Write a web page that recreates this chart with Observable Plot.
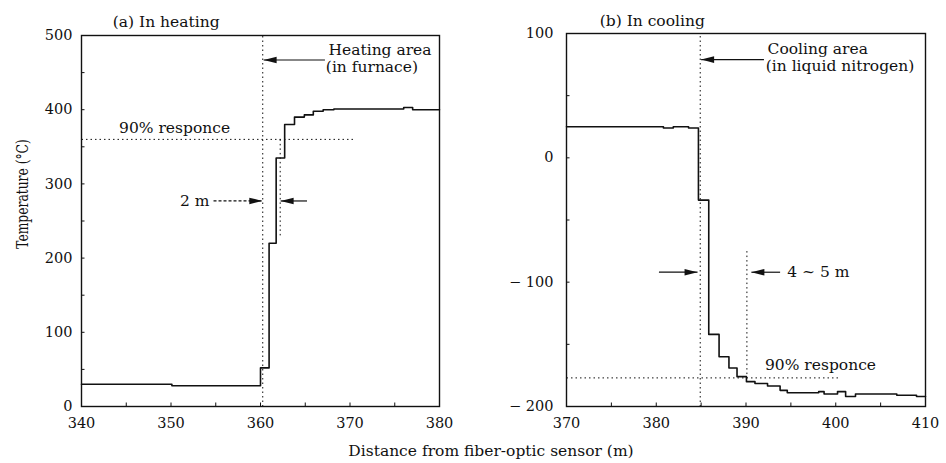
<!DOCTYPE html>
<html>
<head>
<meta charset="utf-8">
<script src="https://cdn.jsdelivr.net/npm/d3@7"></script>
<script src="https://cdn.jsdelivr.net/npm/@observablehq/plot@0.6"></script>
<style>
  body { margin: 0; background: #fff; }
  #wrap { position: relative; width: 946px; height: 463px; background: #fff; font-family: "DejaVu Serif", serif; color: #111; }
  #left, #right { position: absolute; top: 0; }
  #left { left: 0; }
  #right { left: 473px; }
  #xlabel { position: absolute; top: 442px; left: 0; width: 982px; text-align: center; font-size: 15.5px; }
  #ylabel { position: absolute; left: 22px; top: 194px; transform: translate(-50%, -50%) rotate(-90deg) scale(0.82, 1.12); white-space: nowrap; font-size: 15px; }
</style>
</head>
<body>
<div id="wrap">
  <div id="left"></div>
  <div id="right"></div>
  <div id="xlabel">Distance from fiber-optic sensor (m)</div>
  <div id="ylabel">Temperature (°C)</div>
</div>
<script>
// ---- Data: (a) In heating ----
const heatX = [340, 350.1, 360.0, 360.96, 361.75, 362.7, 363.8, 364.9, 365.9, 367.0, 368.2, 376.0, 377.0, 380];
const heatY = [30, 28, 52, 220, 335, 380, 390, 393, 398, 400, 401, 403, 400, 400];
// ---- Data: (b) In cooling ----
const coolX = [370, 380.8, 381.9, 383.6, 384.7, 385.85, 387.0, 388.1, 389.0, 390.05, 391.0, 392.4, 393.8, 394.6, 396.8, 398.1, 398.7, 400.2, 401.1, 402.2, 406.8, 409.0, 410];
const coolY = [25, 24, 25, 24, -34, -142, -160, -169, -176, -180, -181.5, -183.5, -187, -189, -189, -188, -190, -188, -192, -190, -191, -192, -192];

// ---- Axis ticks ----
const heatXTicks = [340, 350, 360, 370, 380];
const heatYTicks = [0, 100, 200, 300, 400, 500];
const heatXMinor = [345, 355, 365, 375];
const heatYMinor = [50, 150, 250, 350, 450];
const coolXTicks = [370, 380, 390, 400, 410];
const coolYTicks = [-200, -100, 0, 100];
const coolXMinor = [375, 385, 395, 405];
const coolYMinor = [-150, -50, 50];

// ---- Annotations ----
const heatTitle = [{x: 343.5, y: 517.5, text: "(a) In heating"}];
const heatLabels = [
  {x: 367.6, y: 481, text: "Heating area", anchor: "start"},
  {x: 367.3, y: 457, text: "(in furnace)", anchor: "start"},
  {x: 350.4, y: 375, text: "90% responce", anchor: "middle"},
  {x: 354.3, y: 277, text: "2 m", anchor: "end"}
];
const heatGuides = [
  {x1: 360.25, x2: 360.25, y1: 0, y2: 500},
  {x1: 340, x2: 370.6, y1: 360, y2: 360},
  {x1: 362.2, x2: 362.2, y1: 360, y2: 228}
];
const heatArrows = [
  {x1: 367.2, x2: 360.35, y: 467, dash: false},
  {x1: 354.75, x2: 360.2, y: 277, dash: true},
  {x1: 365.2, x2: 362.25, y: 277, dash: false}
];

const coolTitle = [{x: 373.7, y: 110, text: "(b) In cooling"}];
const coolLabels = [
  {x: 392.4, y: 87.5, text: "Cooling area", anchor: "start"},
  {x: 392.2, y: 73.5, text: "(in liquid nitrogen)", anchor: "start"},
  {x: 398.3, y: -167, text: "90% responce", anchor: "middle"},
  {x: 394.6, y: -92, text: "4 ~ 5 m", anchor: "start"}
];
const coolGuides = [
  {x1: 384.9, x2: 384.9, y1: -200, y2: 100},
  {x1: 370, x2: 400.5, y1: -177, y2: -177},
  {x1: 390.1, x2: 390.1, y1: -75, y2: -177}
];
const coolArrows = [
  {x1: 392.0, x2: 385.0, y: 79, dash: false},
  {x1: 380.3, x2: 384.6, y: -92, dash: false},
  {x1: 393.8, x2: 390.6, y: -92, dash: false}
];

const headRight = {draw(ctx) { ctx.moveTo(0, 0); ctx.lineTo(-13, -3.3); ctx.lineTo(-13, 3.3); ctx.closePath(); }};
const headLeft = {draw(ctx) { ctx.moveTo(0, 0); ctx.lineTo(13, -3.3); ctx.lineTo(13, 3.3); ctx.closePath(); }};

const ink = "#111";
const fontFamily = "DejaVu Serif";

function panel({width, marginLeft, marginRight, marginTop, xDomain, yDomain, xs, ys, xTicks, yTicks, xMinor, yMinor, title, labels, guides, arrows, tickPad, yFormat}) {
  const data = xs.map((x, i) => ({x, y: ys[i]}));
  const xSpan = xDomain[1] - xDomain[0];
  const ySpan = yDomain[1] - yDomain[0];
  const plotH = 463 - marginTop - 57;
  const plotW = width - marginLeft - marginRight;
  const yIn = 3.5 * ySpan / plotH;
  const xIn = 3.5 * xSpan / plotW;
  const rightHeads = arrows.filter(a => a.x2 > a.x1);
  const leftHeads = arrows.filter(a => a.x2 < a.x1);
  const textMarks = ["start", "middle", "end"].map(anchor =>
    Plot.text(labels.filter(d => d.anchor === anchor), {x: "x", y: "y", text: "text", textAnchor: anchor, fontSize: 15.5, fill: ink}));
  return Plot.plot({
    width, height: 463, marginLeft, marginRight, marginTop, marginBottom: 57,
    x: {domain: xDomain},
    y: {domain: yDomain},
    style: {fontFamily, fontSize: "14.5px", background: "white", color: ink, overflow: "visible"},
    marks: [
      Plot.axisX({ticks: xTicks, tickSize: 0, tickPadding: 11, label: null, fontSize: 14.5}),
      Plot.axisY({ticks: yTicks, tickSize: 0, tickPadding: tickPad, label: null, tickFormat: yFormat, fontSize: 14.5}),
      Plot.ruleX(xTicks.concat(xMinor), {x: d => d, y1: yDomain[0], y2: yDomain[0] + yIn, stroke: ink, strokeWidth: 1}),
      Plot.ruleY(yTicks.concat(yMinor), {y: d => d, x1: xDomain[0], x2: xDomain[0] + xIn, stroke: ink, strokeWidth: 1}),
      Plot.link(guides, {x1: "x1", x2: "x2", y1: "y1", y2: "y2", stroke: ink, strokeWidth: 1, strokeDasharray: "1.5,3"}),
      Plot.link(arrows.filter(a => a.dash), {x1: "x1", x2: "x2", y1: "y", y2: "y", stroke: ink, strokeWidth: 1.2, strokeDasharray: "3,2"}),
      Plot.link(arrows.filter(a => !a.dash), {x1: "x1", x2: "x2", y1: "y", y2: "y", stroke: ink, strokeWidth: 1.2}),
      Plot.dot(rightHeads, {x: "x2", y: "y", symbol: headRight, fill: ink, stroke: "none", r: 4}),
      Plot.dot(leftHeads, {x: "x2", y: "y", symbol: headLeft, fill: ink, stroke: "none", r: 4}),
      Plot.line(data, {x: "x", y: "y", curve: "step-after", stroke: ink, strokeWidth: 1.6}),
      Plot.frame({stroke: ink, strokeWidth: 1.4}),
      Plot.text(title, {x: "x", y: "y", text: "text", textAnchor: "start", fontSize: 15.5, fill: ink}),
      ...textMarks
    ]
  });
}

function fmtHeat(d) { return String(d); }
function fmtCool(d) { return d < 0 ? "\u2212 " + (-d) : String(d); }

const leftPlot = panel({
  width: 470, marginLeft: 81, marginRight: 31, marginTop: 35,
  xDomain: [340, 380], yDomain: [0, 500], xs: heatX, ys: heatY,
  xTicks: heatXTicks, yTicks: heatYTicks, xMinor: heatXMinor, yMinor: heatYMinor,
  title: heatTitle, labels: heatLabels, guides: heatGuides, arrows: heatArrows, tickPad: 9, yFormat: fmtHeat
});
const rightPlot = panel({
  width: 473, marginLeft: 93, marginRight: 21, marginTop: 33,
  xDomain: [370, 410], yDomain: [-200, 100], xs: coolX, ys: coolY,
  xTicks: coolXTicks, yTicks: coolYTicks, xMinor: coolXMinor, yMinor: coolYMinor,
  title: coolTitle, labels: coolLabels, guides: coolGuides, arrows: coolArrows, tickPad: 13, yFormat: fmtCool
});
document.getElementById("left").append(leftPlot);
document.getElementById("right").append(rightPlot);
</script>
</body>
</html>
